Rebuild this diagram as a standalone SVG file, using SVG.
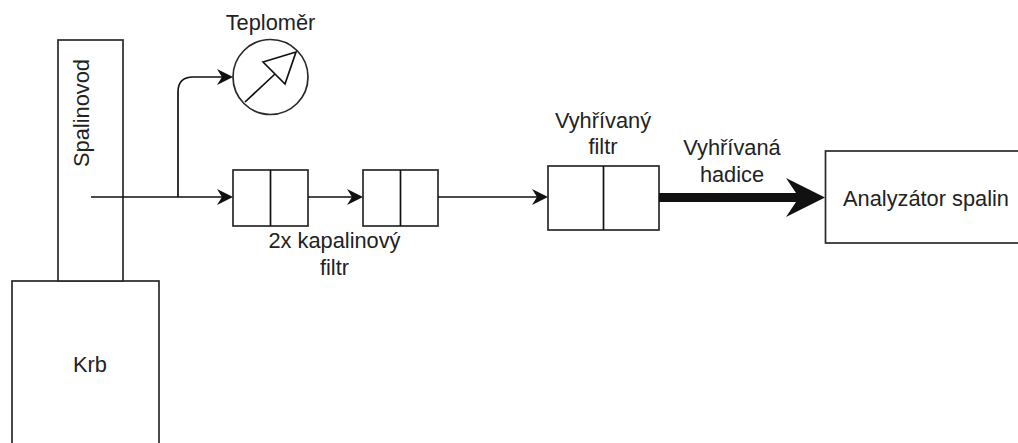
<svg xmlns="http://www.w3.org/2000/svg" width="1018" height="443" viewBox="0 0 1018 443">
<style>
.b{fill:#fff;stroke:#2a2a2a;stroke-width:1.7}
.l{fill:none;stroke:#111;stroke-width:1.7}
.h{fill:#111;stroke:none}
text{font-family:"Liberation Sans",Arial,sans-serif;font-size:21.800px;fill:#222;text-anchor:middle}
</style>
<rect width="1018" height="443" fill="#fff"/>
<g id="krb"><rect class="b" x="12" y="281" width="147" height="170"/><text x="90" y="372">Krb</text></g>
<g id="spalinovod"><rect class="b" x="58" y="40" width="65" height="241"/><text transform="translate(89 113) rotate(-90)">Spalinovod</text></g>
<g id="teplomer">
<circle class="b" cx="270.500" cy="77" r="37.500"/>
<path class="l" d="M245 102L275 74M263 62L296 52L285 84Z"/>
<text x="270.500" y="30">Teploměr</text></g>
<g id="filtr1"><rect class="b" x="233" y="170" width="75" height="56"/><path class="l" d="M270.500 170V226"/></g>
<g id="filtr2"><rect class="b" x="363" y="170" width="75" height="56"/><path class="l" d="M400.500 170V226"/></g>
<text x="334.500" y="248">2x kapalinový</text><text x="334.500" y="275">filtr</text>
<g id="vyhrivany-filtr"><rect class="b" x="548" y="166" width="111" height="64"/><path class="l" d="M603.500 166V230"/>
<text x="603" y="128">Vyhřívaný</text><text x="603" y="154">filtr</text></g>
<g id="analyzator"><rect class="b" x="825.500" y="151" width="200" height="92"/><text x="926" y="206">Analyzátor spalin</text></g>
<g id="connectors">
<path class="l" d="M91 197H225M308 197H355M438 197H540M178 197V92Q178 77 193 77H225"/>
<path class="h" d="M233 197L217 189L222 197L217 205Z"/>
<path class="h" d="M233 77L217 69L222 77L217 85Z"/>
<path class="h" d="M363 197L347 189L352 197L347 205Z"/>
<path class="h" d="M548 197L532 189L537 197L532 205Z"/>
<path class="h" d="M659 193H796L786 178L825 197.500L786 217L796 202H659Z"/>
</g>
<text x="732" y="155">Vyhřívaná</text><text x="732" y="182">hadice</text>
</svg>
